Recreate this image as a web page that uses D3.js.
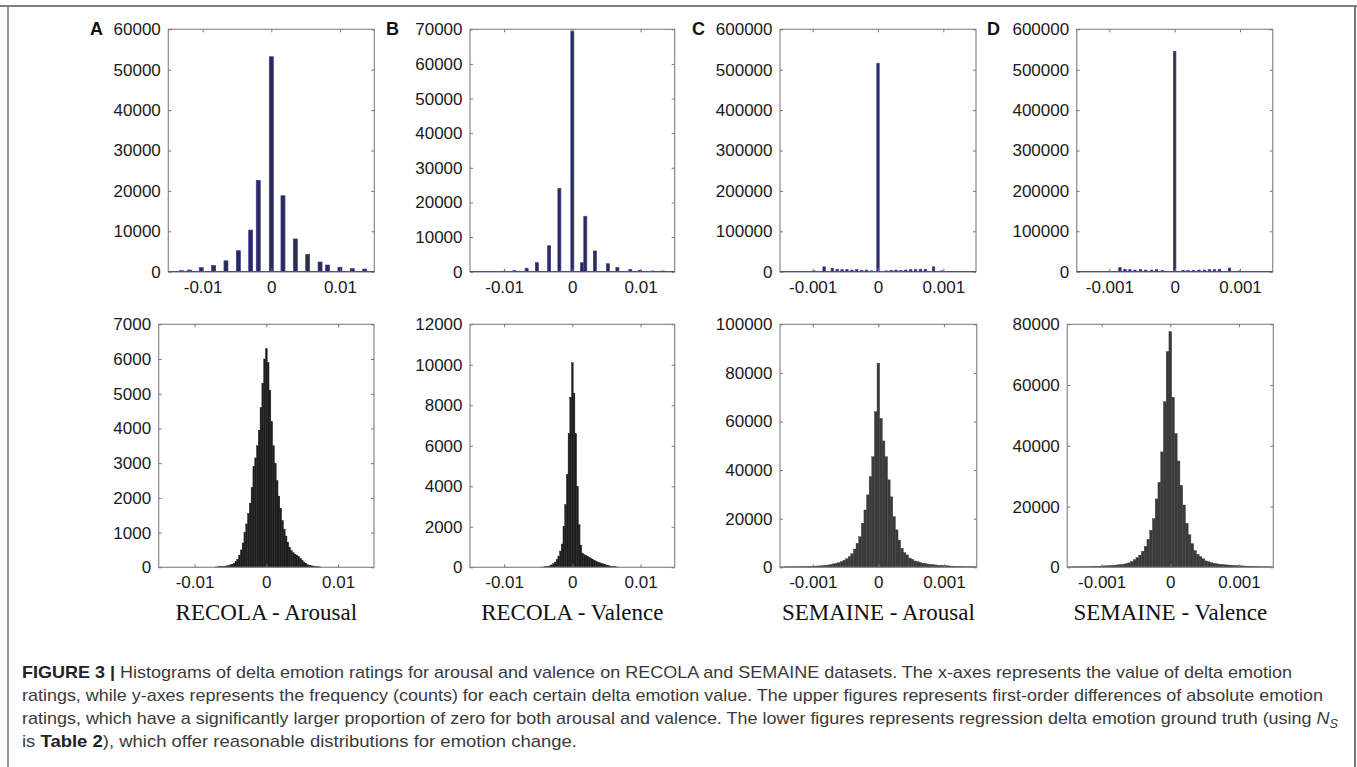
<!DOCTYPE html>
<html>
<head>
<meta charset="utf-8">
<script src="https://cdn.jsdelivr.net/npm/d3@7"></script>
<style>
body { margin: 0; background: #fff; }
svg { display: block; }
</style>
</head>
<body>
<div id="figure"></div>
<script>
// tick values shared by the two datasets
var recolaTicks = [-0.01, 0, 0.01];
var semaineTicks = [-0.001, 0, 0.001];

// upper row: first-order differences, bar centre and count
var recolaArousalDiffX = [-0.0131, -0.0119, -0.0102, -0.0084, -0.0066, -0.0048, -0.0030, -0.0019, 0, 0.0017, 0.0035, 0.0053, 0.0071, 0.0082, 0.0100, 0.0118, 0.0136];
var recolaArousalDiffN = [250, 400, 1000, 1500, 2700, 5200, 10300, 22600, 53200, 18800, 8100, 4300, 2400, 1650, 1100, 750, 650];

var recolaValenceDiffX = [-0.0136, -0.0118, -0.0100, -0.0085, -0.0067, -0.0052, -0.0034, -0.0019, 0, 0.0014, 0.0019, 0.0033, 0.0052, 0.0066, 0.0085, 0.0099, 0.0118, 0.0133];
var recolaValenceDiffN = [100, 100, 150, 300, 1000, 2600, 7500, 24000, 69500, 2600, 16000, 6000, 2300, 1200, 600, 400, 200, 200];

var semaineArousalDiffX = [-0.0013, -0.000975, -0.000825, -0.0007, -0.000625, -0.00055, -0.000475, -0.0004, -0.000325, -0.00025, -0.000175, -0.0001, 0, 0.000125, 0.0002, 0.000275, 0.00035, 0.000425, 0.0005, 0.000575, 0.00065, 0.000725, 0.00085, 0.000975, 0.001125];
var semaineArousalDiffN = [1000, 2000, 12000, 8000, 6000, 5000, 5000, 4000, 5000, 3000, 4000, 2000, 515800, 2000, 3000, 4000, 3000, 4000, 5000, 5000, 6000, 6000, 12000, 2000, 1000];

var semaineValenceDiffX = [-0.00099, -0.000838, -0.000761, -0.000685, -0.000609, -0.000523, -0.000442, -0.000355, -0.000279, -0.000188, 0, 0.000127, 0.000203, 0.000289, 0.000371, 0.000457, 0.000533, 0.000609, 0.000685, 0.000838, 0.00099, 0.001142];
var semaineValenceDiffN = [1000, 10000, 6000, 5000, 4000, 5000, 4000, 4000, 5000, 3000, 544700, 3000, 3000, 3000, 4000, 4000, 5000, 5000, 6000, 9000, 2000, 1000];

// lower row: regression delta histograms (first bin centre, bin width, counts)
var recolaBinWidth = 0.00025;
var semaineBinWidth = 0.00004;

var recolaArousalDeltaStart = -0.007;
var recolaArousalDeltaN = [10, 12, 15, 20, 25, 30, 40, 50, 70, 90, 120, 170, 230, 350, 500, 700, 1000, 1250, 1550, 1850,
  2300, 2900, 3150, 3500, 3950, 4600, 5300, 6000, 6300, 5900, 5100, 4200, 3500, 3000, 2500, 2050, 1700, 1350,
  1100, 900, 720, 580, 480, 420, 380, 350, 320, 260, 200, 150, 110, 80, 60, 45, 35, 25, 20, 15, 10];

var recolaValenceDeltaStart = -0.0045;
var recolaValenceDeltaN = [10, 15, 25, 35, 55, 80, 120, 180, 260, 380, 550, 800, 1150, 2000, 3100, 4600, 6600, 8400,
  10100, 8600, 6600, 4000, 2100, 1100, 700, 620, 580, 540, 490, 440, 390, 350, 300, 260, 230, 200, 170, 140,
  110, 85, 65, 50, 35, 25, 18, 12];

var semaineArousalDeltaStart = -0.00148;
var semaineArousalDeltaN = [180, 190, 200, 220, 240, 260, 280, 300, 320, 350, 380, 400, 450, 500, 550, 600, 700, 820,
  950, 1200, 1400, 1600, 1900, 2300, 2900, 3500, 4400, 5600, 7500, 9900, 12600, 18100, 23600, 29800, 37300,
  45500, 64000, 84000, 61300, 52000, 45500, 36000, 29000, 20800, 15400, 11200, 7800, 6000, 5100, 3800, 3300,
  2600, 2300, 2000, 1700, 1500, 1300, 1150, 1050, 950, 850, 780, 700, 620, 560, 500, 450, 400, 360, 330, 300,
  270, 250, 230, 210];

var semaineValenceDeltaStart = -0.00148;
var semaineValenceDeltaN = [140, 150, 160, 180, 200, 210, 230, 250, 280, 300, 330, 360, 400, 450, 500, 550, 600, 700,
  800, 900, 1000, 1200, 1450, 1900, 2500, 3200, 4000, 5300, 6900, 9200, 12200, 16000, 22500, 28000, 38000,
  54500, 71000, 77600, 56000, 44000, 35000, 27000, 20500, 14500, 10700, 7800, 5500, 4300, 3500, 2800, 2100,
  1800, 1500, 1300, 1150, 1000, 900, 820, 760, 700, 620, 560, 500, 450, 420, 380, 340, 300, 270, 240, 220,
  200, 180, 160, 150];

var titles = ["RECOLA - Arousal", "RECOLA - Valence", "SEMAINE - Arousal", "SEMAINE - Valence"];
var letters = ["A", "B", "C", "D"];

var W = 1357, H = 767;
var svg = d3.select("#figure").append("svg").attr("width", W).attr("height", H);

// frame around the figure
svg.append("line").attr("x1", 0).attr("x2", W).attr("y1", 6).attr("y2", 6).attr("stroke", "#555").attr("stroke-width", 1.5);
svg.append("line").attr("x1", 8).attr("x2", 8).attr("y1", 6).attr("y2", H).attr("stroke", "#777").attr("stroke-width", 1.5);
svg.append("line").attr("x1", 1355).attr("x2", 1355).attr("y1", 6).attr("y2", H).attr("stroke", "#777").attr("stroke-width", 2);

var upper = [
  {box: [168.3, 29.3, 374.3, 271.7], xMax: 0.015, ticks: recolaTicks, yMax: 60000, yStep: 10000, x: recolaArousalDiffX, n: recolaArousalDiffN, barW: 4},
  {box: [470, 29.3, 674.7, 271.7], xMax: 0.015, ticks: recolaTicks, yMax: 70000, yStep: 10000, x: recolaValenceDiffX, n: recolaValenceDiffN, barW: 3},
  {box: [780, 29.3, 976, 271.7], xMax: 0.0015, ticks: semaineTicks, yMax: 600000, yStep: 100000, x: semaineArousalDiffX, n: semaineArousalDiffN, barW: 2.4},
  {box: [1076.7, 29.3, 1272.7, 271.7], xMax: 0.0015, ticks: semaineTicks, yMax: 600000, yStep: 100000, x: semaineValenceDiffX, n: semaineValenceDiffN, barW: 2.4}
];

var lower = [
  {box: [158.7, 324.3, 374, 567.3], xMax: 0.015, ticks: recolaTicks, yMax: 7000, yStep: 1000, start: recolaArousalDeltaStart, bw: recolaBinWidth, n: recolaArousalDeltaN, fill: "#1d1d1d"},
  {box: [470, 324.3, 674.7, 567.3], xMax: 0.015, ticks: recolaTicks, yMax: 12000, yStep: 2000, start: recolaValenceDeltaStart, bw: recolaBinWidth, n: recolaValenceDeltaN, fill: "#1d1d1d"},
  {box: [780, 324.3, 976.7, 567.3], xMax: 0.0015, ticks: semaineTicks, yMax: 100000, yStep: 20000, start: semaineArousalDeltaStart, bw: semaineBinWidth, n: semaineArousalDeltaN, fill: "#3a3a3a"},
  {box: [1067.3, 324.3, 1273.3, 567.3], xMax: 0.0015, ticks: semaineTicks, yMax: 80000, yStep: 20000, start: semaineValenceDeltaStart, bw: semaineBinWidth, n: semaineValenceDeltaN, fill: "#3a3a3a"}
];

var fmtX = function(d) { return d === 0 ? "0" : String(d); };

function scalesFor(p) {
  var x = d3.scaleLinear().domain([-p.xMax, p.xMax]).range([p.box[0], p.box[2]]);
  var y = d3.scaleLinear().domain([0, p.yMax]).range([p.box[3], p.box[1]]);
  return {x: x, y: y};
}

// box, inward ticks on all four sides, labels bottom and left
function drawAxes(g, p, s) {
  var yTicks = d3.range(0, p.yMax + 1, p.yStep);

  g.append("rect")
    .attr("x", p.box[0]).attr("y", p.box[1])
    .attr("width", p.box[2] - p.box[0]).attr("height", p.box[3] - p.box[1])
    .attr("fill", "none").attr("stroke", "#8a8a8a").attr("stroke-width", 1.2);

  var axes = [
    g.append("g").attr("transform", "translate(0," + p.box[3] + ")")
      .call(d3.axisBottom(s.x).tickValues(p.ticks).tickSize(-3).tickPadding(9).tickFormat(fmtX)),
    g.append("g").attr("transform", "translate(0," + p.box[1] + ")")
      .call(d3.axisTop(s.x).tickValues(p.ticks).tickSize(-3).tickFormat("")),
    g.append("g").attr("transform", "translate(" + p.box[0] + ",0)")
      .call(d3.axisLeft(s.y).tickValues(yTicks).tickSize(-3).tickPadding(7.5).tickFormat(d3.format("d"))),
    g.append("g").attr("transform", "translate(" + p.box[2] + ",0)")
      .call(d3.axisRight(s.y).tickValues(yTicks).tickSize(-3).tickFormat(""))
  ];
  axes.forEach(function(a) {
    a.select(".domain").remove();
    a.selectAll(".tick line").attr("stroke", "#777");
    a.selectAll(".tick text")
      .attr("fill", "#1a1a1a")
      .style("font-family", "'Liberation Sans', Arial, Helvetica, sans-serif")
      .style("font-size", "17px");
  });
}

// upper row
upper.forEach(function(p, i) {
  var s = scalesFor(p);
  var g = svg.append("g");

  g.selectAll("rect.bar")
    .data(p.x.map(function(c, j) { return {c: c, n: p.n[j]}; }))
    .enter()
    .append("rect")
    .attr("class", "bar")
    .attr("x", function(d) { return s.x(d.c) - p.barW / 2; })
    .attr("y", function(d) { return s.y(d.n); })
    .attr("width", p.barW)
    .attr("height", function(d) { return s.y(0) - s.y(d.n); })
    .attr("fill", "#2c2c50")
    .attr("stroke", "#3a3a9e")
    .attr("stroke-width", 0.7);

  drawAxes(g, p, s);

  // blue baseline of the bar plot
  g.append("line")
    .attr("x1", p.box[0]).attr("x2", p.box[2])
    .attr("y1", s.y(0)).attr("y2", s.y(0))
    .attr("stroke", "#4a4aaa").attr("stroke-width", 1.3);

  g.append("text")
    .attr("x", [90, 386, 692, 987][i]).attr("y", 35)
    .attr("fill", "#111")
    .style("font-family", "'Liberation Sans', Arial, sans-serif")
    .style("font-weight", "bold")
    .style("font-size", "18px")
    .text(letters[i]);
});

// lower row
lower.forEach(function(p, i) {
  var s = scalesFor(p);
  var g = svg.append("g");

  g.selectAll("rect.bin")
    .data(p.n.map(function(n, j) { return {c: p.start + j * p.bw, n: n}; }))
    .enter()
    .append("rect")
    .attr("class", "bin")
    .attr("x", function(d) { return s.x(d.c - p.bw / 2); })
    .attr("y", function(d) { return s.y(d.n); })
    .attr("width", function(d) { return s.x(d.c + p.bw / 2) - s.x(d.c - p.bw / 2); })
    .attr("height", function(d) { return s.y(0) - s.y(d.n); })
    .attr("fill", p.fill)
    .attr("stroke", p.fill)
    .attr("stroke-width", 0.4);

  drawAxes(g, p, s);

  g.append("text")
    .attr("x", (p.box[0] + p.box[2]) / 2).attr("y", 620)
    .attr("text-anchor", "middle")
    .attr("fill", "#111")
    .style("font-family", "'Liberation Serif', 'Times New Roman', serif")
    .style("font-size", "23px")
    .text(titles[i]);
});

// caption
var caption = [
  {len: 1270, parts: [{t: "FIGURE 3 | ", b: true}, {t: "Histograms of delta emotion ratings for arousal and valence on RECOLA and SEMAINE datasets. The x-axes represents the value of delta emotion"}]},
  {len: 1301, parts: [{t: "ratings, while y-axes represents the frequency (counts) for each certain delta emotion value. The upper figures represents first-order differences of absolute emotion"}]},
  {len: 1316, parts: [{t: "ratings, which have a significantly larger proportion of zero for both arousal and valence. The lower figures represents regression delta emotion ground truth (using "}, {t: "N", it: true}, {t: "S", it: true, sub: true}]},
  {len: 555, parts: [{t: "is "}, {t: "Table 2", b: true}, {t: "), which offer reasonable distributions for emotion change."}]}
];

caption.forEach(function(line, i) {
  var t = svg.append("text")
    .attr("x", 22).attr("y", 678 + i * 23)
    .attr("textLength", line.len)
    .attr("lengthAdjust", "spacingAndGlyphs")
    .attr("fill", "#3a3a3a")
    .style("font-family", "'Liberation Sans Narrow', 'Liberation Sans', Arial, sans-serif")
    .style("font-size", "17px");
  line.parts.forEach(function(part) {
    var ts = t.append("tspan").text(part.t);
    if (part.b) ts.style("font-weight", "bold").attr("fill", "#222");
    if (part.it) ts.style("font-style", "italic");
    if (part.sub) ts.attr("dy", 4).style("font-size", "12px");
  });
});
</script>
</body>
</html>
